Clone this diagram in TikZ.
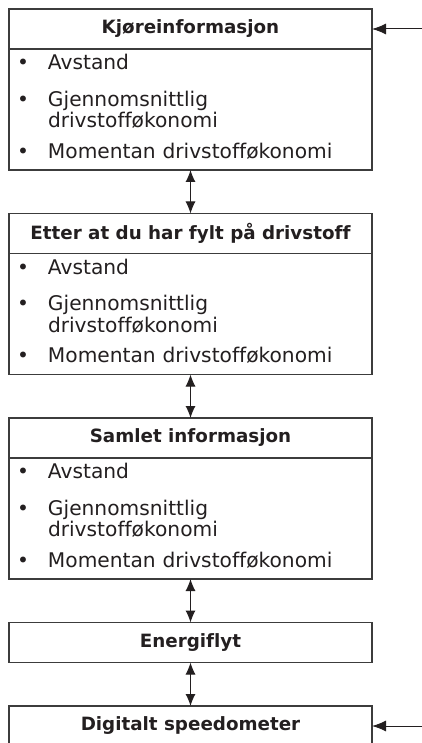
\documentclass[tikz,border=0pt]{standalone}
\usepackage{fontspec}
\setmainfont[Ligatures=NoCommon]{DejaVu Sans}
\usepackage{xcolor}
\usetikzlibrary{arrows.meta, positioning}
\definecolor{inkgray}{RGB}{35,31,32}
\definecolor{framegray}{RGB}{60,60,60}

% bullet list repeated in the three info boxes
\newcommand{\infolist}{%
  \begin{tabular}{@{}p{31pt}@{}l@{}}
  \textbullet & Avstand\\[15pt]
  \textbullet & Gjennomsnittlig\\
              & drivstofføkonomi\\[9pt]
  \textbullet & Momentan drivstofføkonomi
  \end{tabular}}

\begin{document}
\begin{tikzpicture}[
    x=1pt, y=1pt,
    every node/.style={text=inkgray},
    head/.style={rectangle, draw=framegray, line width=1.2pt, minimum width=363pt, minimum height=40pt, outer sep=0pt, inner sep=0pt, font=\fontsize{18.3}{20}\selectfont\bfseries},
    body/.style={rectangle, draw=framegray, line width=1.2pt, minimum width=363pt, minimum height=121pt, outer sep=0pt, inner xsep=8pt, inner ysep=0pt, text width=347pt, align=left, font=\fontsize{20.2}{21}\selectfont},
    link/.style={{Latex[length=12pt,width=10pt]}-{Latex[length=12pt,width=10pt]}, line width=1pt, inkgray},
    feed/.style={-{Latex[length=14pt,width=11pt]}, line width=1pt, inkgray},
    node distance=43.5pt
]
\useasboundingbox (0,0) rectangle (422,-743);

\node[head] (kjoring) at (190.5,-29) {Kjøreinformasjon};
\node[body, below=0pt of kjoring] (kjoringlist) {\infolist};
\node[head, below=of kjoringlist] (fylling) {Etter at du har fylt på drivstoff};
\node[body, below=0pt of fylling] (fyllinglist) {\infolist};
\node[head, below=of fyllinglist] (samlet) {Samlet informasjon};
\node[body, below=0pt of samlet] (samletlist) {\infolist};
\node[head, below=of samletlist] (energi) {Energiflyt};
\node[head, below=of energi] (speedo) {Digitalt speedometer};

\coordinate (kjoringin) at ([xshift=50pt]kjoring.east);
\coordinate (speedoin) at ([xshift=50pt]speedo.east);

\draw[link] (kjoringlist) -- (fylling);
\draw[link] (fyllinglist) -- (samlet);
\draw[link] (samletlist) -- (energi);
\draw[link] (energi) -- (speedo);
\draw[feed] (kjoringin) -- (kjoring.east);
\draw[feed] (speedoin) -- (speedo.east);

\end{tikzpicture}
\end{document}
